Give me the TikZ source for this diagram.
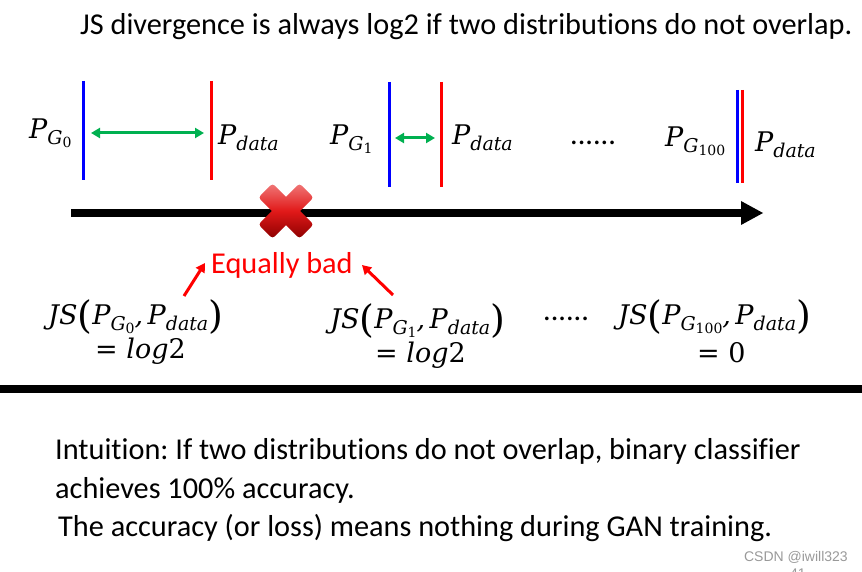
\documentclass[tikz,border=0pt]{standalone}
\usepackage{fontspec}
\setmainfont[Ligatures={NoCommon}]{Carlito}
\newfontfamily\csdnfont{Liberation Sans}
\newfontfamily\dvs{DejaVu Serif}
\usetikzlibrary{arrows.meta}
\definecolor{dgreen}{RGB}{0,176,80}
\definecolor{xred}{RGB}{225,25,25}
\definecolor{xdark}{RGB}{140,0,0}
\definecolor{xlight}{RGB}{240,120,120}
\frenchspacing
\newcommand{\Sub}[1]{\raisebox{-6pt}{\fontsize{19}{19}\selectfont #1}}
\newcommand{\SSub}[1]{\raisebox{-3pt}{\fontsize{14}{14}\selectfont\upshape #1}}
\newcommand{\Lp}{\raisebox{-4pt}{\fontsize{38}{38}\selectfont\upshape(}}
\newcommand{\Rp}{\raisebox{-4pt}{\fontsize{38}{38}\selectfont\upshape)}}
\newcommand{\Pdata}{P\Sub{data}}
\begin{document}
\begin{tikzpicture}[x=1pt,y=-1pt,
  txt/.style={font=\fontsize{30.3}{34}\selectfont, inner sep=0pt},
  plab/.style={font=\dvs\itshape\fontsize{27}{30}\selectfont, inner sep=0pt, anchor=base west},
  bline/.style={blue, line width=3pt},
  rline/.style={red, line width=3pt},
  garrow/.style={dgreen, line width=3pt, {Triangle[length=9pt,width=10pt]}-{Triangle[length=9pt,width=10pt]}},
  rarrow/.style={red, line width=3pt, -{Triangle[length=9pt,width=10pt]}},
]
\useasboundingbox (0,0) rectangle (862,572);
\begin{scope}
\clip (0,0) rectangle (862,572);

% title
\node[txt, anchor=base west] (title) at (80,35) {JS divergence is always log2 if two distributions do not overlap.};

% group 0
\coordinate (b0t) at (83,81); \coordinate (b0b) at (83,180);
\coordinate (r0t) at (211,81); \coordinate (r0b) at (211,180);
\draw[bline] (b0t) -- (b0b);
\draw[rline] (r0t) -- (r0b);
\coordinate (g0a) at (91,133); \coordinate (g0b) at (204,133);
\draw[garrow] (g0a) -- (g0b);
\node[plab] (pg0) at (29,139) {P\Sub{G\SSub{0}}};
\node[plab] (pd0) at (218,145) {\Pdata};

% group 1
\coordinate (b1t) at (389,82); \coordinate (b1b) at (389,187);
\coordinate (r1t) at (441,82); \coordinate (r1b) at (441,187);
\draw[bline] (b1t) -- (b1b);
\draw[rline] (r1t) -- (r1b);
\coordinate (g1a) at (395,138); \coordinate (g1b) at (435,138);
\draw[garrow] (g1a) -- (g1b);
\node[plab] (pg1) at (330,145) {P\Sub{G\SSub{1}}};
\node[plab] (pd1) at (452,145) {\Pdata};

\node[txt, anchor=base west] (dots1) at (570,145) {......};

% group 100
\coordinate (b2t) at (737,90); \coordinate (b2b) at (737,183);
\coordinate (r2t) at (742,90); \coordinate (r2b) at (742,183);
\draw[bline] (b2t) -- (b2b);
\draw[rline] (r2t) -- (r2b);
\node[plab] (pg2) at (665,147) {P\Sub{G\SSub{100}}};
\node[plab] (pd2) at (755,152) {\Pdata};

% main axis arrow
\coordinate (ax0) at (71,213);
\coordinate (ax1) at (741,213);
\coordinate (axt) at (763,213);
\draw[line width=8pt] (ax0) -- (ax1);
\fill (741,201) -- (axt) -- (741,225) -- cycle;

% red X
\begin{scope}[shift={(286,211)}]
  \foreach \a in {45,-45}{
    \begin{scope}[rotate=\a]
      \path[top color=xlight, bottom color=xdark, middle color=xred, rounded corners=3pt]
        (-29,-10) rectangle (29,10);
    \end{scope}
  }
\end{scope}
\node[inner sep=0pt] (xmark) at (286,211) {};

% Equally bad
\node[txt, red, anchor=base west] (eq) at (211,273) {Equally bad};
\coordinate (la) at (184,296); \coordinate (lb) at (205,263);
\coordinate (ra) at (393,295); \coordinate (rb) at (362,265);
\draw[rarrow] (la) -- (lb);
\draw[rarrow] (ra) -- (rb);

% JS formulas
\node[plab] (js0) at (48,324) {JS\Lp P\Sub{G\SSub{0}},\,\Pdata\Rp};
\node[plab] (eq0) at (95,358) {\upshape= \itshape log\upshape 2};
\node[plab] (js1) at (330,328) {JS\Lp P\Sub{G\SSub{1}},\,\Pdata\Rp};
\node[plab] (eq1) at (375,362) {\upshape= \itshape log\upshape 2};
\node[txt, anchor=base west] (dots2) at (543,320) {......};
\node[plab] (js2) at (618,324) {JS\Lp P\Sub{G\SSub{100}},\,\Pdata\Rp};
\node[plab] (eq2) at (697,362) {\upshape= 0};

% separator
\coordinate (s0) at (0,389); \coordinate (s1) at (862,389);
\draw[line width=8pt] (s0) -- (s1);

% bottom text
\node[txt, anchor=base west] (int1) at (55,459) {Intuition: If two distributions do not overlap, binary classifier};
\node[txt, anchor=base west] (int2) at (55,498) {achieves 100\% accuracy.};
\node[txt, anchor=base west] (acc) at (58,536) {The accuracy (or loss) means nothing during GAN training.};
\node[font=\csdnfont\fontsize{14}{16}\selectfont, text=gray!80, inner sep=0pt, anchor=base east] (csdn) at (848,561) {CSDN @iwill323};
\node[font=\csdnfont\fontsize{14}{16}\selectfont, text=gray!80, inner sep=0pt, anchor=base west] (pg) at (790,578) {41};
\end{scope}
\end{tikzpicture}
\end{document}
